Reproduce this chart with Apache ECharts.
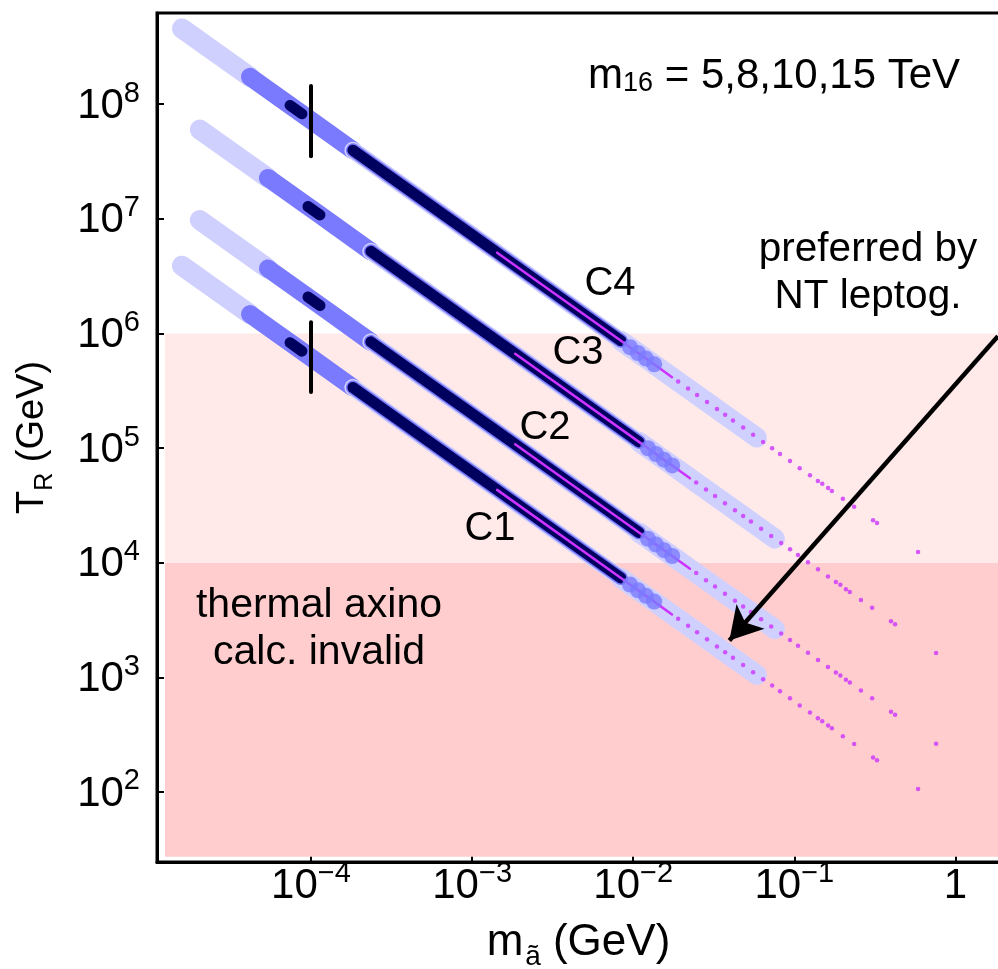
<!DOCTYPE html>
<html><head><meta charset="utf-8">
<script src="https://cdn.jsdelivr.net/npm/echarts@6/dist/echarts.min.js"></script>
<style>html,body{margin:0;padding:0;background:#fff;}#c{width:998px;height:969px;}</style>
</head><body><div id="c"></div><script>
// ---- axis ranges ----
const xRange = [1.107e-5, 1.89];
const yRange = [24.5, 6.25e8];

// ---- shaded regions (m range, T range) ----
const pinkX = [1.24e-5, 1.89];
const invalidT = [27.2, 1e4];      // "thermal axino calc. invalid"
const leptoT = [1e4, 1e6];         // "preferred by NT leptog."

// ---- knots along each band: start, medium start, dark1 a/b, dark2 start, magenta start,
//      dark end, 4 blob centres, magenta line end, band end ----
const mKnotA = [1.58e-5, 4.18e-5, 7.41e-5, 8.79e-5, 1.82e-4, 1.43e-3, 8.39e-3, 9.55e-3, 1.07e-2, 1.20e-2, 1.35e-2, 1.74e-2, 5.86e-2];
const mKnotB = [2.04e-5, 5.40e-5, 9.58e-5, 1.137e-4, 2.35e-4, 1.85e-3, 1.085e-2, 1.235e-2, 1.384e-2, 1.552e-2, 1.746e-2, 2.25e-2, 7.58e-2];
const tKnotC4 = [4.58e8, 1.734e8, 9.77e7, 8.24e7, 3.97e7, 5.07e6, 8.63e5, 7.59e5, 6.76e5, 6.04e5, 5.38e5, 4.16e5, 1.236e5];
const tKnotC3 = [6.01e7, 2.277e7, 1.283e7, 1.082e7, 5.21e6, 6.66e5, 1.133e5, 9.97e4, 8.88e4, 7.93e4, 7.06e4, 5.46e4, 1.623e4];
const tKnotC2 = [9.75e6, 3.69e6, 2.08e6, 1.754e6, 8.45e5, 1.079e5, 1.837e4, 1.616e4, 1.439e4, 1.286e4, 1.145e4, 8.86e3, 2.63e3];
const tKnotC1 = [3.90e6, 1.476e6, 8.32e5, 7.01e5, 3.38e5, 4.32e4, 7.35e3, 6.46e3, 5.75e3, 5.14e3, 4.58e3, 3.54e3, 1.052e3];

// ---- magenta points beyond the dark segment ----
const mDotA = [1.90e-2, 2.19e-2, 2.49e-2, 2.87e-2, 3.31e-2, 3.72e-2, 4.16e-2, 4.81e-2, 5.55e-2, 6.40e-2, 7.28e-2, 8.15e-2, 9.40e-2, 0.108, 0.125, 0.140, 0.149, 0.162, 0.171, 0.200, 0.235, 0.308, 0.326, 0.586];
const mDotB = [2.46e-2, 2.83e-2, 3.22e-2, 3.71e-2, 4.28e-2, 4.81e-2, 5.38e-2, 6.22e-2, 7.18e-2, 8.28e-2, 9.41e-2, 0.1054, 0.1215, 0.1402, 0.1616, 0.181, 0.193, 0.209, 0.221, 0.259, 0.304, 0.398, 0.422, 0.758];
const tDotC4 = [3.82e5, 3.31e5, 2.91e5, 2.52e5, 2.19e5, 1.95e5, 1.74e5, 1.51e5, 1.31e5, 1.13e5, 9.95e4, 8.89e4, 7.71e4, 6.68e4, 5.79e4, 5.16e4, 4.88e4, 4.48e4, 4.23e4, 3.61e4, 3.08e4, 2.35e4, 2.22e4, 1.24e4];
const tDotC3 = [5.02e4, 4.35e4, 3.82e4, 3.31e4, 2.87e4, 2.56e4, 2.29e4, 1.98e4, 1.71e4, 1.49e4, 1.31e4, 1.17e4, 1.01e4, 8.77e3, 7.60e3, 6.78e3, 6.41e3, 5.88e3, 5.55e3, 4.74e3, 4.04e3, 3.09e3, 2.91e3, 1.63e3];
const tDotC2 = [8.13e3, 7.05e3, 6.20e3, 5.37e3, 4.66e3, 4.15e3, 3.71e3, 3.21e3, 2.78e3, 2.41e3, 2.12e3, 1.89e3, 1.64e3, 1.42e3, 1.23e3, 1.10e3, 1.04e3, 954, 901, 769, 656, 500, 473, 264];
const tDotC1 = [3.25e3, 2.82e3, 2.48e3, 2.15e3, 1.86e3, 1.66e3, 1.48e3, 1.28e3, 1.11e3, 963, 847, 757, 656, 569, 493, 439, 415, 381, 360, 307, 262, 200, 189, 106];

// ---- vertical markers at m = 1e-4 ----
const barM = 1e-4;
const barTopT = [1.44e8, 3.52e7];
const barLowT = [1.256e6, 3.08e5];

// ---- arrow (start, tip) ----
const arrowFrom = [1.835, 9.48e5];
const arrowTo = [0.0395, 2100];

const curveNames = ['C4', 'C3', 'C2', 'C1'];

const FONT = 'Liberation Sans';
const C_LIGHT = '#d0d0ff', C_MED = '#7a7aff', C_DARK = '#00005e', C_MAG = '#cc33ff';

const curves = [
  {m: mKnotA, t: tKnotC4, md: mDotA, td: tDotC4},
  {m: mKnotB, t: tKnotC3, md: mDotB, td: tDotC3},
  {m: mKnotB, t: tKnotC2, md: mDotB, td: tDotC2},
  {m: mKnotA, t: tKnotC1, md: mDotA, td: tDotC1}
];
function seg(c, i, j) { const o = []; for (let k = i; k <= j; k++) o.push([c.m[k], c.t[k]]); return o; }
function lineS(data, width, color) {
  return {type: 'line', data, showSymbol: false, symbol: 'none', silent: true, z: 2,
    lineStyle: {width, color, cap: 'round', join: 'round'}, emphasis: {disabled: true}};
}

const series = [];
series.push({type: 'line', data: [[1e-3, 1e3]], showSymbol: false, symbol: 'none', silent: true, z: 1,
  lineStyle: {opacity: 0},
  markArea: {silent: true, z: 1, data: [
    [{xAxis: pinkX[0], yAxis: invalidT[0], itemStyle: {color: '#ffcdcd'}}, {xAxis: pinkX[1], yAxis: invalidT[1]}],
    [{xAxis: pinkX[0], yAxis: leptoT[0], itemStyle: {color: '#ffe9e9'}}, {xAxis: pinkX[1], yAxis: leptoT[1]}]
  ]}});
curves.forEach(c => {
  series.push(lineS(seg(c, 0, 1), 20, C_LIGHT));
  series.push(lineS(seg(c, 6, 12), 20, C_LIGHT));
  series.push(lineS(seg(c, 1, 4), 18, C_MED));
  series.push(lineS(seg(c, 4, 6), 17, C_LIGHT));
  series.push(lineS(seg(c, 4, 6), 14, C_MED));
  series.push({type: 'scatter', data: seg(c, 7, 10), symbolSize: 16, silent: true, z: 2,
    itemStyle: {color: C_MED}, emphasis: {disabled: true}});
  series.push(lineS(seg(c, 2, 3), 11, C_DARK));
  series.push(lineS(seg(c, 4, 6), 11, C_DARK));
  series.push(lineS(seg(c, 5, 11), 2.5, C_MAG));
  series.push({type: 'scatter', data: c.md.map((m, i) => [m, c.td[i]]), symbolSize: 4.5, silent: true, z: 3,
    itemStyle: {color: C_MAG}, emphasis: {disabled: true}});
});
series.push(Object.assign(lineS([[barM, barTopT[0]], [barM, barTopT[1]]], 4, '#000'), {z: 5}));
const lowBar = Object.assign(lineS([[barM, barLowT[0]], [barM, barLowT[1]]], 4, '#000'), {z: 5});
lowBar.markLine = {silent: true, symbol: ['none', 'arrow'], symbolSize: [28, 32], z: 6,
  label: {show: false}, lineStyle: {color: '#000', width: 4.5, type: 'solid'},
  data: [[{coord: arrowFrom}, {coord: arrowTo}]]};
series.push(lowBar);

function supLabel(v) {
  const e = Math.log10(v), r = Math.round(e);
  if (Math.abs(e - r) > 1e-3) return '';
  if (r === 0) return '{base|1}';
  return '{base|10}{sup|' + (r < 0 ? '\u2212' + (-r) : r) + '}';
}
const labRich = {
  base: {fontSize: 42, fontFamily: FONT, color: '#000', verticalAlign: 'bottom', lineHeight: 46},
  sup: {fontSize: 29, fontFamily: FONT, color: '#000', verticalAlign: 'bottom', lineHeight: 30, padding: [0, 0, 19, 0]}
};
const xNameRich = {
  big: {fontSize: 44, fontFamily: FONT, color: '#000', verticalAlign: 'bottom', lineHeight: 48, padding: [0, 0, 6, 0]},
  sub: {fontSize: 28, fontFamily: FONT, color: '#000', verticalAlign: 'bottom', lineHeight: 30, padding: [0, 12, 0, 2]}
};
const yNameRich = {
  big: {fontSize: 38, fontFamily: FONT, color: '#000', verticalAlign: 'bottom', lineHeight: 42, padding: [0, 0, 6, 0]},
  sub: {fontSize: 25, fontFamily: FONT, color: '#000', verticalAlign: 'bottom', lineHeight: 27}
};

function txt(text, x, y, size, align) {
  return {type: 'text', x, y, z: 100, silent: true,
    style: {text, fontSize: size, fontFamily: FONT, fill: '#000', align: align || 'center', verticalAlign: 'middle'}};
}
const graphic = [
  {type: 'text', x: 588, y: 76, z: 100, silent: true,
   style: {text: '{a|m}{s|16}{a| = 5,8,10,15 TeV}', align: 'left', verticalAlign: 'middle', fill: '#000',
     rich: {a: {fontSize: 42, fontFamily: FONT, fill: '#000', verticalAlign: 'bottom'},
            s: {fontSize: 27, fontFamily: FONT, fill: '#000', verticalAlign: 'bottom'}}}},
  txt('preferred by', 868, 250, 40.5),
  txt('NT leptog.', 868, 297, 40.5),
  txt('thermal axino', 319, 606, 41),
  txt('calc. invalid', 319, 653, 41),
  txt(curveNames[0], 610, 284, 40),
  txt(curveNames[1], 578, 353, 40),
  txt(curveNames[2], 545, 428, 40),
  txt(curveNames[3], 490, 529, 40)
];

const chart = echarts.init(document.getElementById('c'), null, {renderer: 'canvas'});
chart.setOption({
  animation: false,
  backgroundColor: '#fff',
  textStyle: {fontFamily: FONT},
  grid: {left: 157, top: 13, width: 843, height: 849, show: true, borderColor: '#000', borderWidth: 3,
    containLabel: false, outerBoundsMode: 'none'},
  xAxis: {type: 'log', logBase: 10, min: xRange[0], max: xRange[1],
    axisLine: {show: true, onZero: false, lineStyle: {color: '#000', width: 3}},
    axisTick: {show: true, inside: true, length: 7, lineStyle: {color: '#000', width: 2}},
    minorTick: {show: false}, splitLine: {show: false},
    axisLabel: {formatter: supLabel, margin: -1, fontSize: 42, color: '#000', rich: labRich, hideOverlap: false},
    name: '{big|m}{sub|\u00e3}{big|(GeV)}', nameLocation: 'middle', nameGap: 61,
    nameTextStyle: {fontSize: 44, color: '#000', rich: xNameRich}},
  yAxis: {type: 'log', logBase: 10, min: yRange[0], max: yRange[1],
    axisLine: {show: true, onZero: false, lineStyle: {color: '#000', width: 3}},
    axisTick: {show: true, inside: true, length: 7, lineStyle: {color: '#000', width: 2}},
    minorTick: {show: false}, splitLine: {show: false},
    axisLabel: {formatter: supLabel, margin: 17, fontSize: 42, color: '#000', rich: labRich, hideOverlap: false},
    name: '{big|T}{sub|R}{big| (GeV)}', nameLocation: 'middle', nameGap: 99, nameRotate: 90,
    nameTextStyle: {fontSize: 38, color: '#000', rich: yNameRich}},
  series,
  graphic
});
</script></body></html>
